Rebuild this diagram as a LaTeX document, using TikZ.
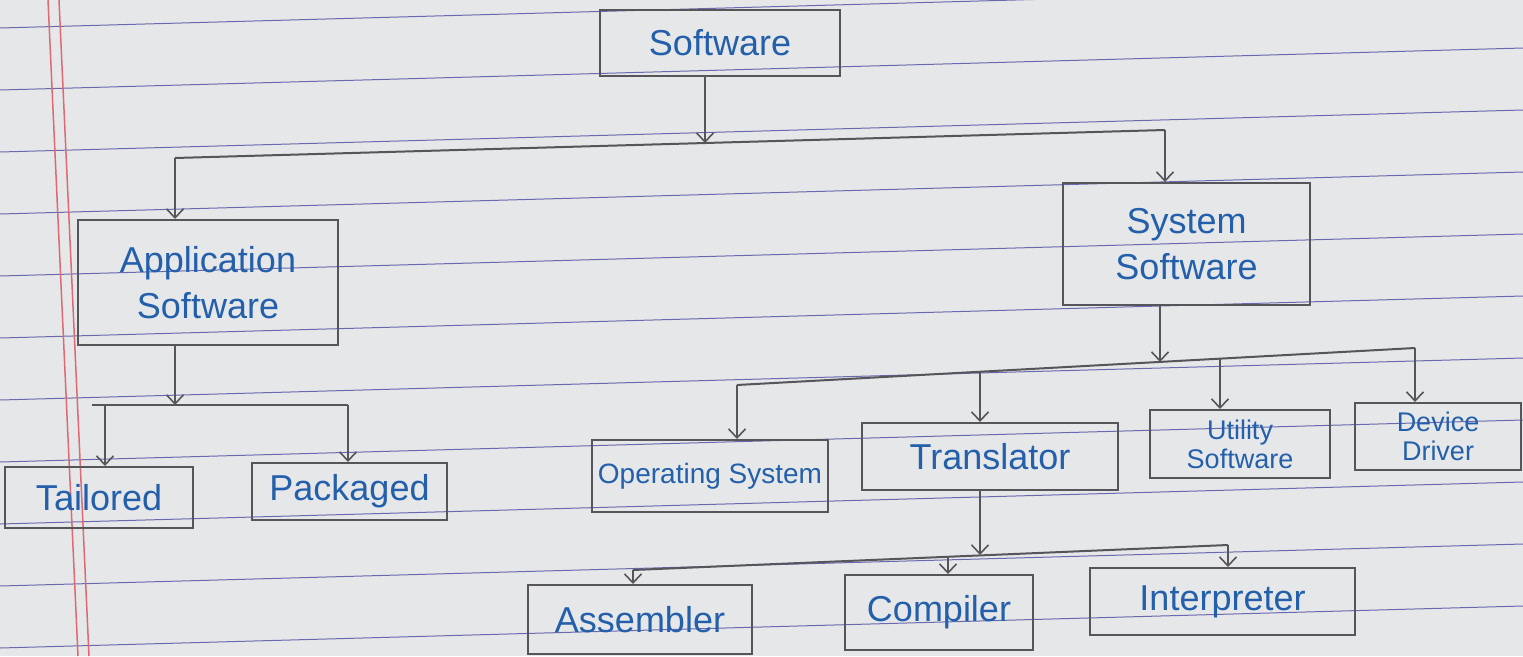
\documentclass[tikz,border=0pt]{standalone}
\usepackage{fontspec}
\setmainfont{Liberation Sans}
\usetikzlibrary{arrows.meta}
\definecolor{paper}{RGB}{230,231,233}
\definecolor{ruleblue}{RGB}{105,105,175}
\definecolor{marginred}{RGB}{222,105,115}
\definecolor{pencil}{RGB}{85,85,90}
\definecolor{ink}{RGB}{35,95,170}
\begin{document}
\begin{tikzpicture}[x=1pt,y=-1pt,
  box/.style={draw=pencil,line width=2pt,inner sep=0pt,text=ink,align=center},
  arr/.style={draw=pencil,line width=1.6pt,-{Straight Barb[length=9pt,width=17pt,line width=1.6pt]}},
  bus/.style={draw=pencil,line width=2pt},
  ruling/.style={draw=ruleblue,line width=1pt},
  marginline/.style={draw=marginred,line width=1.5pt},
  big/.style={font=\fontsize{36}{46}\selectfont},
  osfont/.style={font=\fontsize{28}{32}\selectfont},
  small/.style={font=\fontsize{27}{29}\selectfont}]
% paper
\fill[paper] (0,0) rectangle (1523,656);
\useasboundingbox (0,0) rectangle (1523,656);
\foreach \k in {0,...,10}{
  \draw[ruling] (0,{28+62*\k}) -- (1523,{28+62*\k-42});
}
\draw[marginline] (48,0) -- (78,656);
\draw[marginline] (59,0) -- (89,656);
% boxes
\node[box,big,minimum width=240pt,minimum height=66pt] (soft) at (720,43) {Software};
\node[box,big,minimum width=260pt,minimum height=125pt] (app) at (208,282.5) {Application\\Software};
\node[box,big,minimum width=247pt,minimum height=122pt] (sys) at (1186.5,244) {System\\Software};
\node[box,big,minimum width=188pt,minimum height=61pt] (tail) at (99,497.5) {Tailored};
\node[box,big,minimum width=195pt,minimum height=57pt] (pack) at (349.5,491.5) {Packaged};
\node[box,osfont,minimum width=236pt,minimum height=72pt] (os) at (710,476) {Operating System};
\node[box,big,minimum width=256pt,minimum height=67pt] (trans) at (990,456.5) {Translator};
\node[box,small,minimum width=180pt,minimum height=68pt] (util) at (1240,444) {Utility\\Software};
\node[box,small,minimum width=166pt,minimum height=67pt] (dev) at (1438,436.5) {Device\\Driver};
\node[box,big,minimum width=224pt,minimum height=69pt] (asm) at (640,619.5) {Assembler};
\node[box,big,minimum width=188pt,minimum height=75pt] (comp) at (939,612.5) {Compiler};
\node[box,big,minimum width=265pt,minimum height=67pt] (interp) at (1222.5,601.5) {Interpreter};
% level 1
\coordinate (b1l) at (175,158);
\coordinate (b1m) at (705,143);
\coordinate (b1r) at (1165,130);
\draw[bus] (b1l) -- (b1r);
\draw[arr] (soft.south -| b1m) -- (b1m);
\draw[arr] (b1l) -- (b1l |- app.north);
\draw[arr] (b1r) -- (b1r |- sys.north);
% level 2 left
\coordinate (b2l) at (92,405);
\coordinate (b2a) at (105,405);
\coordinate (b2m) at (175,405);
\coordinate (b2r) at (348,405);
\draw[bus] (b2l) -- (b2r);
\draw[arr] (app.south -| b2m) -- (b2m);
\draw[arr] (b2a) -- (b2a |- tail.north);
\draw[arr] (b2r) -- (b2r |- pack.north);
% level 2 right
\coordinate (c0) at (737,385);
\coordinate (c1) at (980,372);
\coordinate (cm) at (1160,362);
\coordinate (c2) at (1220,359);
\coordinate (c3) at (1415,348);
\draw[bus] (c0) -- (c3);
\draw[arr] (sys.south -| cm) -- (cm);
\draw[arr] (c0) -- (c0 |- os.north);
\draw[arr] (c1) -- (c1 |- trans.north);
\draw[arr] (c2) -- (c2 |- util.north);
\draw[arr] (c3) -- (c3 |- dev.north);
% level 3
\coordinate (d0) at (633,570);
\coordinate (d1) at (948,557);
\coordinate (dm) at (980,555);
\coordinate (d2) at (1228,545);
\draw[bus] (d0) -- (d2);
\draw[arr] (trans.south -| dm) -- (dm);
\draw[arr] (d0) -- (d0 |- asm.north);
\draw[arr] (d1) -- (d1 |- comp.north);
\draw[arr] (d2) -- (d2 |- interp.north);
\end{tikzpicture}
\end{document}
